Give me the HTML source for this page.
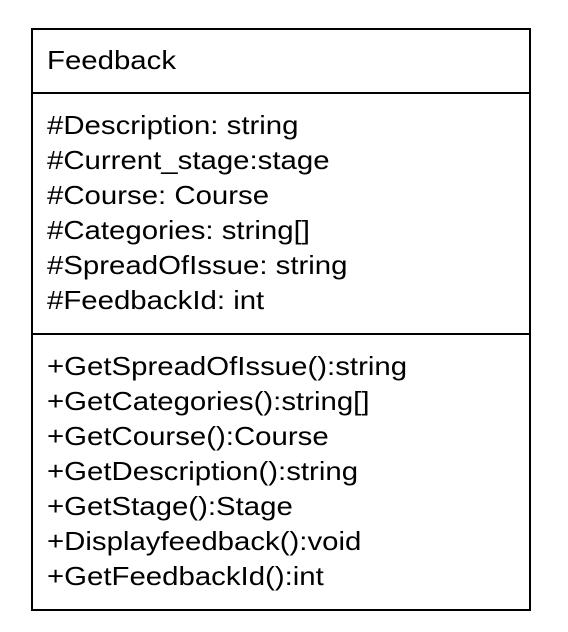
<!DOCTYPE html>
<html><head><style>
body{margin:0;width:568px;height:632px;background:#fff;position:relative;font-family:"Liberation Sans",Arial,sans-serif;font-size:26px;color:#000}
.b{position:absolute;left:31px;top:28px;width:496px;height:579px;border:2px solid #000}
.h{position:absolute;left:31px;width:498px;height:2px;background:#000}
.t{position:absolute;left:47px;line-height:35px;white-space:pre;transform:scaleX(1.13);transform-origin:0 0}
</style></head><body>
<div class="b"></div>
<div class="h" style="top:92px"></div>
<div class="h" style="top:333px"></div>
<div class="t" style="top:43px">Feedback</div>
<div class="t" style="top:108px">#Description: string
#Current_stage:stage
#Course: Course
#Categories: string[]
#SpreadOfIssue: string
#FeedbackId: int</div>
<div class="t" style="top:349px">+GetSpreadOfIssue():string
+GetCategories():string[]
+GetCourse():Course
+GetDescription():string
+GetStage():Stage
+Displayfeedback():void
+GetFeedbackId():int</div>
</body></html>
